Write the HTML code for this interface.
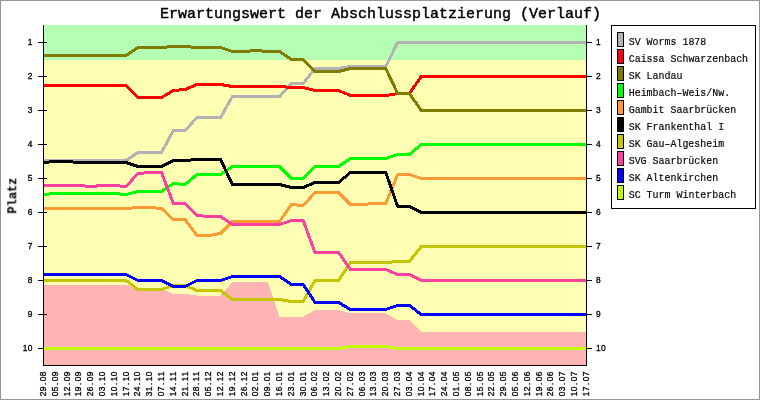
<!DOCTYPE html>
<html><head><meta charset="utf-8"><title>Erwartungswert der Abschlussplatzierung (Verlauf)</title>
<style>
html,body{margin:0;padding:0;background:#fff;}
svg{display:block;}
text{font-family:"Liberation Mono",monospace;fill:#000;}
.t{font-size:15px;stroke:#000;stroke-width:0.45px;}
.yl{font-size:12px;font-weight:bold;stroke:#000;stroke-width:0.1px;}
.tk{font-family:"Liberation Sans",sans-serif;font-size:8.4px;stroke:#000;stroke-width:0.32px;}
.lg{font-size:11.6px;stroke:#000;stroke-width:0.2px;}
.ln{fill:none;stroke-width:3;stroke-linejoin:round;stroke-linecap:butt;}
</style></head><body>
<svg width="760" height="400" viewBox="0 0 760 400">
<rect x="0" y="0" width="760" height="400" fill="#fff"/>
<g shape-rendering="crispEdges">
<rect x="44" y="25" width="542" height="35" fill="#b4ffb4"/>
<rect x="44" y="60" width="542" height="305" fill="#ffffb4"/>
<polygon fill="#ffb4b4" points="44,365 44.00,284.50 55.30,284.50 67.11,284.50 78.91,284.50 90.72,284.50 102.52,284.50 114.33,284.50 126.13,284.50 137.93,288.75 149.74,288.75 161.54,288.75 173.35,294.00 185.15,294.00 196.96,295.50 208.76,295.50 220.57,295.50 232.37,282.25 244.17,282.25 255.98,282.25 267.78,282.25 279.59,316.75 291.39,316.75 303.20,316.75 315.00,310.00 326.80,310.00 338.61,310.00 350.41,313.25 362.22,313.25 374.02,313.25 385.83,313.25 397.63,320.00 409.43,320.00 421.24,332.00 433.04,332.00 444.85,332.00 456.65,332.00 468.46,332.00 480.26,332.00 492.07,332.00 503.87,332.00 515.67,332.00 527.48,332.00 539.28,332.00 551.09,332.00 562.89,332.00 574.70,332.00 586.00,332.00 586,365"/>
</g>
<g shape-rendering="crispEdges" fill="#000">
<rect x="38" y="42" width="9" height="1"/>
<rect x="587" y="42" width="5" height="1"/>
<rect x="38" y="76" width="9" height="1"/>
<rect x="587" y="76" width="5" height="1"/>
<rect x="38" y="110" width="9" height="1"/>
<rect x="587" y="110" width="5" height="1"/>
<rect x="38" y="144" width="9" height="1"/>
<rect x="587" y="144" width="5" height="1"/>
<rect x="38" y="178" width="9" height="1"/>
<rect x="587" y="178" width="5" height="1"/>
<rect x="38" y="212" width="9" height="1"/>
<rect x="587" y="212" width="5" height="1"/>
<rect x="38" y="246" width="9" height="1"/>
<rect x="587" y="246" width="5" height="1"/>
<rect x="38" y="280" width="9" height="1"/>
<rect x="587" y="280" width="5" height="1"/>
<rect x="38" y="314" width="9" height="1"/>
<rect x="587" y="314" width="5" height="1"/>
<rect x="38" y="348" width="9" height="1"/>
<rect x="587" y="348" width="5" height="1"/>
</g>
<clipPath id="c"><rect x="44" y="25" width="542" height="340"/></clipPath>
<g clip-path="url(#c)" shape-rendering="crispEdges">
<polyline class="ln" stroke="#b2b2b2" points="43.50,160.50 55.30,160.50 67.11,160.50 78.91,160.50 90.72,160.50 102.52,160.50 114.33,160.50 126.13,160.50 137.93,152.50 149.74,152.50 161.54,152.50 173.35,130.50 185.15,130.50 196.96,117.50 208.76,117.50 220.57,117.50 232.37,96.50 244.17,96.50 255.98,96.50 267.78,96.50 279.59,96.50 291.39,83.50 303.20,83.50 315.00,68.50 326.80,68.50 338.61,68.50 350.41,66.50 362.22,66.50 374.02,66.50 385.83,66.50 397.63,42.50 409.43,42.50 421.24,42.50 433.04,42.50 444.85,42.50 456.65,42.50 468.46,42.50 480.26,42.50 492.07,42.50 503.87,42.50 515.67,42.50 527.48,42.50 539.28,42.50 551.09,42.50 562.89,42.50 574.70,42.50 586.50,42.50"/>
<polyline class="ln" stroke="#ff0000" points="43.50,85.50 55.30,85.50 67.11,85.50 78.91,85.50 90.72,85.50 102.52,85.50 114.33,85.50 126.13,85.50 137.93,97.50 149.74,97.50 161.54,97.50 173.35,90.50 185.15,89.50 196.96,84.50 208.76,84.50 220.57,84.50 232.37,86.50 244.17,86.50 255.98,86.50 267.78,86.50 279.59,86.50 291.39,87.50 303.20,87.50 315.00,90.50 326.80,90.50 338.61,90.50 350.41,95.50 362.22,95.50 374.02,95.50 385.83,95.50 397.63,93.50 409.43,93.50 421.24,76.50 433.04,76.50 444.85,76.50 456.65,76.50 468.46,76.50 480.26,76.50 492.07,76.50 503.87,76.50 515.67,76.50 527.48,76.50 539.28,76.50 551.09,76.50 562.89,76.50 574.70,76.50 586.50,76.50"/>
<polyline class="ln" stroke="#807c00" points="43.50,55.50 55.30,55.50 67.11,55.50 78.91,55.50 90.72,55.50 102.52,55.50 114.33,55.50 126.13,55.50 137.93,47.50 149.74,47.50 161.54,47.50 173.35,46.50 185.15,46.50 196.96,47.50 208.76,47.50 220.57,47.50 232.37,51.50 244.17,51.50 255.98,50.50 267.78,51.50 279.59,51.50 291.39,59.50 303.20,59.50 315.00,71.50 326.80,71.50 338.61,71.50 350.41,68.50 362.22,68.50 374.02,68.50 385.83,68.50 397.63,93.50 409.43,93.50 421.24,110.50 433.04,110.50 444.85,110.50 456.65,110.50 468.46,110.50 480.26,110.50 492.07,110.50 503.87,110.50 515.67,110.50 527.48,110.50 539.28,110.50 551.09,110.50 562.89,110.50 574.70,110.50 586.50,110.50"/>
<polyline class="ln" stroke="#00ff00" points="43.50,194.50 55.30,193.50 67.11,193.50 78.91,193.50 90.72,193.50 102.52,193.50 114.33,193.50 126.13,194.50 137.93,191.50 149.74,191.50 161.54,191.50 173.35,183.50 185.15,184.50 196.96,174.50 208.76,174.50 220.57,174.50 232.37,166.50 244.17,166.50 255.98,166.50 267.78,166.50 279.59,166.50 291.39,178.50 303.20,178.50 315.00,166.50 326.80,166.50 338.61,166.50 350.41,158.50 362.22,158.50 374.02,158.50 385.83,158.50 397.63,154.50 409.43,154.50 421.24,144.50 433.04,144.50 444.85,144.50 456.65,144.50 468.46,144.50 480.26,144.50 492.07,144.50 503.87,144.50 515.67,144.50 527.48,144.50 539.28,144.50 551.09,144.50 562.89,144.50 574.70,144.50 586.50,144.50"/>
<polyline class="ln" stroke="#ff9933" points="43.50,208.50 55.30,208.50 67.11,208.50 78.91,208.50 90.72,208.50 102.52,208.50 114.33,208.50 126.13,208.50 137.93,207.50 149.74,207.50 161.54,208.50 173.35,219.50 185.15,219.50 196.96,235.50 208.76,235.50 220.57,233.50 232.37,221.50 244.17,221.50 255.98,221.50 267.78,221.50 279.59,221.50 291.39,204.50 303.20,205.50 315.00,192.50 326.80,192.50 338.61,192.50 350.41,204.50 362.22,204.50 374.02,203.50 385.83,203.50 397.63,174.50 409.43,174.50 421.24,178.50 433.04,178.50 444.85,178.50 456.65,178.50 468.46,178.50 480.26,178.50 492.07,178.50 503.87,178.50 515.67,178.50 527.48,178.50 539.28,178.50 551.09,178.50 562.89,178.50 574.70,178.50 586.50,178.50"/>
<polyline class="ln" stroke="#000000" points="43.50,162.50 55.30,161.50 67.11,161.50 78.91,162.50 90.72,162.50 102.52,162.50 114.33,162.50 126.13,162.50 137.93,166.50 149.74,166.50 161.54,166.50 173.35,160.50 185.15,160.50 196.96,159.50 208.76,159.50 220.57,159.50 232.37,184.50 244.17,184.50 255.98,184.50 267.78,184.50 279.59,184.50 291.39,187.50 303.20,187.50 315.00,182.50 326.80,182.50 338.61,182.50 350.41,172.50 362.22,172.50 374.02,172.50 385.83,172.50 397.63,206.50 409.43,206.50 421.24,212.50 433.04,212.50 444.85,212.50 456.65,212.50 468.46,212.50 480.26,212.50 492.07,212.50 503.87,212.50 515.67,212.50 527.48,212.50 539.28,212.50 551.09,212.50 562.89,212.50 574.70,212.50 586.50,212.50"/>
<polyline class="ln" stroke="#c6c600" points="43.50,280.50 55.30,280.50 67.11,280.50 78.91,280.50 90.72,280.50 102.52,280.50 114.33,280.50 126.13,280.50 137.93,289.50 149.74,289.50 161.54,289.50 173.35,285.50 185.15,285.50 196.96,290.50 208.76,290.50 220.57,290.50 232.37,299.50 244.17,299.50 255.98,299.50 267.78,299.50 279.59,299.50 291.39,301.50 303.20,301.50 315.00,280.50 326.80,280.50 338.61,280.50 350.41,262.50 362.22,262.50 374.02,262.50 385.83,262.50 397.63,261.50 409.43,261.50 421.24,246.50 433.04,246.50 444.85,246.50 456.65,246.50 468.46,246.50 480.26,246.50 492.07,246.50 503.87,246.50 515.67,246.50 527.48,246.50 539.28,246.50 551.09,246.50 562.89,246.50 574.70,246.50 586.50,246.50"/>
<polyline class="ln" stroke="#ff40a0" points="43.50,185.50 55.30,185.50 67.11,185.50 78.91,185.50 90.72,186.50 102.52,185.50 114.33,185.50 126.13,186.50 137.93,173.50 149.74,172.50 161.54,172.50 173.35,203.50 185.15,203.50 196.96,215.50 208.76,216.50 220.57,216.50 232.37,224.50 244.17,224.50 255.98,224.50 267.78,224.50 279.59,224.50 291.39,220.50 303.20,220.50 315.00,252.50 326.80,252.50 338.61,252.50 350.41,269.50 362.22,269.50 374.02,269.50 385.83,269.50 397.63,274.50 409.43,274.50 421.24,280.50 433.04,280.50 444.85,280.50 456.65,280.50 468.46,280.50 480.26,280.50 492.07,280.50 503.87,280.50 515.67,280.50 527.48,280.50 539.28,280.50 551.09,280.50 562.89,280.50 574.70,280.50 586.50,280.50"/>
<polyline class="ln" stroke="#0000ff" points="43.50,274.50 55.30,274.50 67.11,274.50 78.91,274.50 90.72,274.50 102.52,274.50 114.33,274.50 126.13,274.50 137.93,280.50 149.74,280.50 161.54,280.50 173.35,286.50 185.15,286.50 196.96,280.50 208.76,280.50 220.57,280.50 232.37,276.50 244.17,276.50 255.98,276.50 267.78,276.50 279.59,276.50 291.39,284.50 303.20,284.50 315.00,302.50 326.80,302.50 338.61,302.50 350.41,309.50 362.22,309.50 374.02,309.50 385.83,309.50 397.63,305.50 409.43,305.50 421.24,314.50 433.04,314.50 444.85,314.50 456.65,314.50 468.46,314.50 480.26,314.50 492.07,314.50 503.87,314.50 515.67,314.50 527.48,314.50 539.28,314.50 551.09,314.50 562.89,314.50 574.70,314.50 586.50,314.50"/>
<polyline class="ln" stroke="#c0ff00" points="43.50,348.50 55.30,348.50 67.11,348.50 78.91,348.50 90.72,348.50 102.52,348.50 114.33,348.50 126.13,348.50 137.93,348.50 149.74,348.50 161.54,348.50 173.35,348.50 185.15,348.50 196.96,348.50 208.76,348.50 220.57,348.50 232.37,348.50 244.17,348.50 255.98,348.50 267.78,348.50 279.59,348.50 291.39,348.50 303.20,348.50 315.00,348.50 326.80,348.50 338.61,348.50 350.41,346.50 362.22,346.50 374.02,346.50 385.83,346.50 397.63,348.50 409.43,348.50 421.24,348.50 433.04,348.50 444.85,348.50 456.65,348.50 468.46,348.50 480.26,348.50 492.07,348.50 503.87,348.50 515.67,348.50 527.48,348.50 539.28,348.50 551.09,348.50 562.89,348.50 574.70,348.50 586.50,348.50"/>
</g>
<g shape-rendering="crispEdges" fill="#000">
<rect x="43" y="25" width="1" height="341"/>
<rect x="586" y="25" width="1" height="341"/>
<rect x="43" y="365" width="544" height="1"/>
</g>
<g opacity="0.999">
<text class="tk" transform="translate(27.7,45.2)" x="0.00">1</text>
<text class="tk" transform="translate(596.1,45.2)" x="0.00">1</text>
<text class="tk" transform="translate(27.7,79.2)" x="0.00">2</text>
<text class="tk" transform="translate(596.1,79.2)" x="0.00">2</text>
<text class="tk" transform="translate(27.7,113.2)" x="0.00">3</text>
<text class="tk" transform="translate(596.1,113.2)" x="0.00">3</text>
<text class="tk" transform="translate(27.7,147.2)" x="0.00">4</text>
<text class="tk" transform="translate(596.1,147.2)" x="0.00">4</text>
<text class="tk" transform="translate(27.7,181.2)" x="0.00">5</text>
<text class="tk" transform="translate(596.1,181.2)" x="0.00">5</text>
<text class="tk" transform="translate(27.7,215.2)" x="0.00">6</text>
<text class="tk" transform="translate(596.1,215.2)" x="0.00">6</text>
<text class="tk" transform="translate(27.7,249.2)" x="0.00">7</text>
<text class="tk" transform="translate(596.1,249.2)" x="0.00">7</text>
<text class="tk" transform="translate(27.7,283.2)" x="0.00">8</text>
<text class="tk" transform="translate(596.1,283.2)" x="0.00">8</text>
<text class="tk" transform="translate(27.7,317.2)" x="0.00">9</text>
<text class="tk" transform="translate(596.1,317.2)" x="0.00">9</text>
<text class="tk" transform="translate(22.7,351.2)" x="0.00 5.00">10</text>
<text class="tk" transform="translate(596.1,351.2)" x="0.00 5.00">10</text>
<text class="tk" transform="translate(45.90,396.2) rotate(-90)" x="0.00 5.00 11.25 15.00 20.00">29.08</text>
<text class="tk" transform="translate(57.70,396.2) rotate(-90)" x="0.00 5.00 11.25 15.00 20.00">05.09</text>
<text class="tk" transform="translate(69.51,396.2) rotate(-90)" x="0.00 5.00 11.25 15.00 20.00">12.09</text>
<text class="tk" transform="translate(81.31,396.2) rotate(-90)" x="0.00 5.00 11.25 15.00 20.00">19.09</text>
<text class="tk" transform="translate(93.12,396.2) rotate(-90)" x="0.00 5.00 11.25 15.00 20.00">26.09</text>
<text class="tk" transform="translate(104.92,396.2) rotate(-90)" x="0.00 5.00 11.25 15.00 20.00">03.10</text>
<text class="tk" transform="translate(116.73,396.2) rotate(-90)" x="0.00 5.00 11.25 15.00 20.00">10.10</text>
<text class="tk" transform="translate(128.53,396.2) rotate(-90)" x="0.00 5.00 11.25 15.00 20.00">17.10</text>
<text class="tk" transform="translate(140.33,396.2) rotate(-90)" x="0.00 5.00 11.25 15.00 20.00">24.10</text>
<text class="tk" transform="translate(152.14,396.2) rotate(-90)" x="0.00 5.00 11.25 15.00 20.00">31.10</text>
<text class="tk" transform="translate(163.94,396.2) rotate(-90)" x="0.00 5.00 11.25 15.00 20.00">07.11</text>
<text class="tk" transform="translate(175.75,396.2) rotate(-90)" x="0.00 5.00 11.25 15.00 20.00">14.11</text>
<text class="tk" transform="translate(187.55,396.2) rotate(-90)" x="0.00 5.00 11.25 15.00 20.00">21.11</text>
<text class="tk" transform="translate(199.36,396.2) rotate(-90)" x="0.00 5.00 11.25 15.00 20.00">28.11</text>
<text class="tk" transform="translate(211.16,396.2) rotate(-90)" x="0.00 5.00 11.25 15.00 20.00">05.12</text>
<text class="tk" transform="translate(222.97,396.2) rotate(-90)" x="0.00 5.00 11.25 15.00 20.00">12.12</text>
<text class="tk" transform="translate(234.77,396.2) rotate(-90)" x="0.00 5.00 11.25 15.00 20.00">19.12</text>
<text class="tk" transform="translate(246.57,396.2) rotate(-90)" x="0.00 5.00 11.25 15.00 20.00">26.12</text>
<text class="tk" transform="translate(258.38,396.2) rotate(-90)" x="0.00 5.00 11.25 15.00 20.00">02.01</text>
<text class="tk" transform="translate(270.18,396.2) rotate(-90)" x="0.00 5.00 11.25 15.00 20.00">09.01</text>
<text class="tk" transform="translate(281.99,396.2) rotate(-90)" x="0.00 5.00 11.25 15.00 20.00">16.01</text>
<text class="tk" transform="translate(293.79,396.2) rotate(-90)" x="0.00 5.00 11.25 15.00 20.00">23.01</text>
<text class="tk" transform="translate(305.60,396.2) rotate(-90)" x="0.00 5.00 11.25 15.00 20.00">30.01</text>
<text class="tk" transform="translate(317.40,396.2) rotate(-90)" x="0.00 5.00 11.25 15.00 20.00">06.02</text>
<text class="tk" transform="translate(329.20,396.2) rotate(-90)" x="0.00 5.00 11.25 15.00 20.00">13.02</text>
<text class="tk" transform="translate(341.01,396.2) rotate(-90)" x="0.00 5.00 11.25 15.00 20.00">20.02</text>
<text class="tk" transform="translate(352.81,396.2) rotate(-90)" x="0.00 5.00 11.25 15.00 20.00">27.02</text>
<text class="tk" transform="translate(364.62,396.2) rotate(-90)" x="0.00 5.00 11.25 15.00 20.00">06.03</text>
<text class="tk" transform="translate(376.42,396.2) rotate(-90)" x="0.00 5.00 11.25 15.00 20.00">13.03</text>
<text class="tk" transform="translate(388.23,396.2) rotate(-90)" x="0.00 5.00 11.25 15.00 20.00">20.03</text>
<text class="tk" transform="translate(400.03,396.2) rotate(-90)" x="0.00 5.00 11.25 15.00 20.00">27.03</text>
<text class="tk" transform="translate(411.83,396.2) rotate(-90)" x="0.00 5.00 11.25 15.00 20.00">03.04</text>
<text class="tk" transform="translate(423.64,396.2) rotate(-90)" x="0.00 5.00 11.25 15.00 20.00">10.04</text>
<text class="tk" transform="translate(435.44,396.2) rotate(-90)" x="0.00 5.00 11.25 15.00 20.00">17.04</text>
<text class="tk" transform="translate(447.25,396.2) rotate(-90)" x="0.00 5.00 11.25 15.00 20.00">24.04</text>
<text class="tk" transform="translate(459.05,396.2) rotate(-90)" x="0.00 5.00 11.25 15.00 20.00">01.05</text>
<text class="tk" transform="translate(470.86,396.2) rotate(-90)" x="0.00 5.00 11.25 15.00 20.00">08.05</text>
<text class="tk" transform="translate(482.66,396.2) rotate(-90)" x="0.00 5.00 11.25 15.00 20.00">15.05</text>
<text class="tk" transform="translate(494.47,396.2) rotate(-90)" x="0.00 5.00 11.25 15.00 20.00">22.05</text>
<text class="tk" transform="translate(506.27,396.2) rotate(-90)" x="0.00 5.00 11.25 15.00 20.00">29.05</text>
<text class="tk" transform="translate(518.07,396.2) rotate(-90)" x="0.00 5.00 11.25 15.00 20.00">05.06</text>
<text class="tk" transform="translate(529.88,396.2) rotate(-90)" x="0.00 5.00 11.25 15.00 20.00">12.06</text>
<text class="tk" transform="translate(541.68,396.2) rotate(-90)" x="0.00 5.00 11.25 15.00 20.00">19.06</text>
<text class="tk" transform="translate(553.49,396.2) rotate(-90)" x="0.00 5.00 11.25 15.00 20.00">26.06</text>
<text class="tk" transform="translate(565.29,396.2) rotate(-90)" x="0.00 5.00 11.25 15.00 20.00">03.07</text>
<text class="tk" transform="translate(577.10,396.2) rotate(-90)" x="0.00 5.00 11.25 15.00 20.00">10.07</text>
<text class="tk" transform="translate(588.90,396.2) rotate(-90)" x="0.00 5.00 11.25 15.00 20.00">17.07</text>
<text class="t" x="160" y="18" textLength="441" lengthAdjust="spacingAndGlyphs">Erwartungswert der Abschlussplatzierung (Verlauf)</text>
<text class="yl" transform="translate(16.3,213.6) rotate(-90)" textLength="36" lengthAdjust="spacingAndGlyphs">Platz</text>
<g shape-rendering="crispEdges">
<rect x="611.5" y="25.5" width="144" height="183" fill="none" stroke="#000" stroke-width="1"/>
<rect x="617.5" y="32.5" width="6" height="14" fill="#b2b2b2" stroke="#000" stroke-width="1"/>
<rect x="617.5" y="49.5" width="6" height="14" fill="#ff0000" stroke="#000" stroke-width="1"/>
<rect x="617.5" y="66.5" width="6" height="14" fill="#807c00" stroke="#000" stroke-width="1"/>
<rect x="617.5" y="83.5" width="6" height="14" fill="#00ff00" stroke="#000" stroke-width="1"/>
<rect x="617.5" y="100.5" width="6" height="14" fill="#ff9933" stroke="#000" stroke-width="1"/>
<rect x="617.5" y="117.5" width="6" height="14" fill="#000000" stroke="#000" stroke-width="1"/>
<rect x="617.5" y="134.5" width="6" height="14" fill="#c6c600" stroke="#000" stroke-width="1"/>
<rect x="617.5" y="151.5" width="6" height="14" fill="#ff40a0" stroke="#000" stroke-width="1"/>
<rect x="617.5" y="168.5" width="6" height="14" fill="#0000ff" stroke="#000" stroke-width="1"/>
<rect x="617.5" y="185.5" width="6" height="14" fill="#c0ff00" stroke="#000" stroke-width="1"/>
</g>
<text class="lg" x="628.7" y="45.0" textLength="77.6" lengthAdjust="spacingAndGlyphs">SV Worms 1878</text>
<text class="lg" x="628.7" y="62.0" textLength="119.4" lengthAdjust="spacingAndGlyphs">Caissa Schwarzenbach</text>
<text class="lg" x="628.7" y="79.0" textLength="53.7" lengthAdjust="spacingAndGlyphs">SK Landau</text>
<text class="lg" x="628.7" y="96.0" textLength="101.5" lengthAdjust="spacingAndGlyphs">Heimbach–Weis/Nw.</text>
<text class="lg" x="628.7" y="113.0" textLength="107.5" lengthAdjust="spacingAndGlyphs">Gambit Saarbrücken</text>
<text class="lg" x="628.7" y="130.0" textLength="95.5" lengthAdjust="spacingAndGlyphs">SK Frankenthal I</text>
<text class="lg" x="628.7" y="147.0" textLength="95.5" lengthAdjust="spacingAndGlyphs">SK Gau–Algesheim</text>
<text class="lg" x="628.7" y="164.0" textLength="89.5" lengthAdjust="spacingAndGlyphs">SVG Saarbrücken</text>
<text class="lg" x="628.7" y="181.0" textLength="89.5" lengthAdjust="spacingAndGlyphs">SK Altenkirchen</text>
<text class="lg" x="628.7" y="198.0" textLength="107.5" lengthAdjust="spacingAndGlyphs">SC Turm Winterbach</text>
</g>
<rect x="0.5" y="0.5" width="759" height="399" fill="none" stroke="#969696" stroke-width="1" shape-rendering="crispEdges"/>
</svg></body></html>
